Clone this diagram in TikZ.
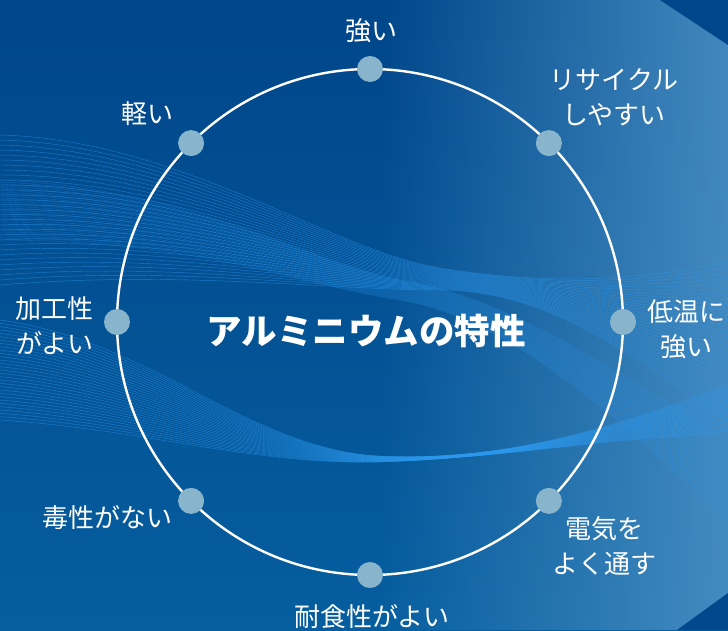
\documentclass[tikz,border=0pt]{standalone}
\usepackage{fontspec}
\newfontfamily\cjk{Noto Sans CJK JP}
\usetikzlibrary{fadings}
\definecolor{bgtop}{HTML}{00468A}
\definecolor{bgbot}{HTML}{065E9F}
\definecolor{bgright}{HTML}{4A90C4}
\definecolor{darkcorner}{HTML}{00468A}
\definecolor{wave}{HTML}{2E9CF2}
\definecolor{dotc}{HTML}{88B4CC}
\tikzfading[name=fadeR, left color=transparent!100, right color=transparent!10]
\begin{document}
\begin{tikzpicture}[x=1pt,y=-1pt,
  lbl/.style={font=\cjk\fontsize{26}{35}\selectfont, text=white, align=center, inner sep=0pt},
  titlebox/.style={font=\cjk\bfseries\fontsize{35.5}{40}\selectfont, text=white, inner sep=0pt},
  ring/.style={circle, draw=white, line width=2.4pt, minimum size=506pt, inner sep=0pt, outer sep=0pt},
  dotn/.style={circle, fill=dotc, minimum size=26pt, inner sep=0pt},
  wv/.style={draw=wave, line width=0.45pt, opacity=0.55},
  wvc/.style={draw=wave, line width=0.4pt, opacity=0.35}]
\useasboundingbox (0,0) rectangle (728,630);
% background
\shade[top color=bgtop, bottom color=bgbot] (0,0) rectangle (728,630);
\fill[bgright, path fading=fadeR] (380,0) rectangle (728,630);
\fill[darkcorner] (660,0) -- (728,0) -- (728,45) -- cycle;
\fill[darkcorner!90!bgbot] (677,630) -- (728,630) -- (728,593) -- cycle;
% waves
\begin{scope}
\clip (0,0) rectangle (728,630);
\foreach \i in {0,...,30}{
  \pgfmathsetmacro\t{\i/30}
  \draw[wv] (0,{135+150*\t}) .. controls (180,{140+130*\t}) and (330,{250+40*\t}) .. (440,{268+22*\t})
     .. controls (550,{286+4*\t}) and (640,{280+80*\t}) .. (728,{262+160*\t});
  \draw[wv] (0,{320+100*\t}) .. controls (150,{340+90*\t}) and (250,{450+15*\t}) .. (380,{456+6*\t})
     .. controls (510,{462-4*\t}) and (620,{425+10*\t}) .. (728,{385+50*\t});
  \draw[wvc] (0,{180+60*\t}) .. controls (200,{190+50*\t}) and (300,{260+25*\t}) .. (400,{280+20*\t})
     .. controls (500,{296+20*\t}) and (600,{360+40*\t}) .. (728,{440+80*\t});
}
\end{scope}
% ring and dots
\node[ring] (ring) at (370,322) {};
\node[dotn] (dN)  at (ring.90)  {};
\node[dotn] (dNE) at (ring.45)  {};
\node[dotn] (dE)  at (ring.0)   {};
\node[dotn] (dSE) at (ring.-45) {};
\node[dotn] (dS)  at (ring.-90) {};
\node[dotn] (dSW) at (ring.-135){};
\node[dotn] (dW)  at (ring.180) {};
\node[dotn] (dNW) at (ring.135) {};
% labels
\node[titlebox] (title) at (366,331) {アルミニウムの特性};
\node[lbl] (lN)  at (371,31)  {強い};
\node[lbl] (lNE) at (614,97)  {リサイクル\\しやすい};
\node[lbl] (lE)  at (686,329) {低温に\\強い};
\node[lbl] (lSE) at (604,546) {電気を\\よく通す};
\node[lbl] (lS)  at (372,617) {耐食性がよい};
\node[lbl] (lSW) at (107,518) {毒性がない};
\node[lbl] (lW)  at (55,326)  {加工性\\がよい};
\node[lbl] (lNW) at (147,114) {軽い};
\end{tikzpicture}
\end{document}
